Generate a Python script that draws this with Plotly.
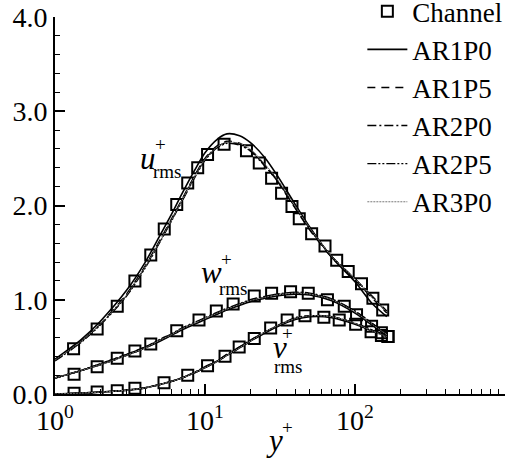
import plotly.graph_objects as go

# ---------------- data ----------------
# Channel DNS reference (open squares)
u_ch_y = [1.33, 1.91, 2.6, 3.41, 4.35, 5.35, 6.48, 7.67, 8.94, 10.4, 13.4, 18.9, 23.0, 27.8, 32.4, 38.0, 42.5, 51.4, 63.1, 75.5, 90.1, 110.5, 131.6, 153]
u_ch_v = [0.48, 0.69, 0.93, 1.20, 1.475, 1.75, 2.01, 2.24, 2.40, 2.54, 2.65, 2.58, 2.45, 2.29, 2.13, 1.99, 1.86, 1.70, 1.57, 1.42, 1.30, 1.17, 1.015, 0.89]
w_ch_y = [1.34, 1.91, 2.6, 3.41, 4.35, 6.48, 9.12, 11.9, 15.4, 21.3, 27.8, 37.2, 48.8, 65.5, 84.8, 102.4, 129, 150, 166]
w_ch_v = [0.21, 0.29, 0.38, 0.456, 0.53, 0.67, 0.785, 0.88, 0.955, 1.04, 1.07, 1.085, 1.07, 1.0, 0.93, 0.84, 0.72, 0.65, 0.61]
v_ch_y = [1.34, 1.91, 2.6, 3.41, 5.33, 7.67, 10.4, 13.6, 16.9, 21.3, 27.4, 35.3, 46.4, 62.0, 78.5, 101, 128, 150, 166]
v_ch_v = [0.007, 0.02, 0.035, 0.06, 0.12, 0.2, 0.3, 0.4, 0.5, 0.59, 0.70, 0.785, 0.83, 0.815, 0.785, 0.74, 0.66, 0.62, 0.61]

# LES cases (lines), sampled at these y+ values
yl = [1, 1.5, 2, 3, 4, 5, 6, 7, 8.5, 10, 12, 14, 17, 20, 25, 30, 40, 50, 70, 100, 130, 163]

u_AR1P0 = [0.37, 0.58, 0.77, 1.10, 1.40, 1.68, 1.91, 2.12, 2.37, 2.56, 2.70, 2.76, 2.74, 2.67, 2.51, 2.33, 2.01, 1.77, 1.45, 1.19, 0.96, 0.82]
u_AR1P5 = [0.36, 0.56, 0.74, 1.06, 1.36, 1.63, 1.86, 2.06, 2.31, 2.50, 2.63, 2.68, 2.66, 2.59, 2.43, 2.27, 1.97, 1.74, 1.45, 1.21, 1.02, 0.86]
u_AR2P0 = [0.36, 0.56, 0.74, 1.05, 1.35, 1.62, 1.85, 2.05, 2.30, 2.49, 2.62, 2.67, 2.65, 2.59, 2.43, 2.28, 1.98, 1.75, 1.46, 1.22, 1.03, 0.87]
u_AR2P5 = [0.35, 0.55, 0.73, 1.04, 1.34, 1.61, 1.84, 2.04, 2.29, 2.48, 2.61, 2.66, 2.64, 2.58, 2.42, 2.27, 1.98, 1.75, 1.46, 1.22, 1.04, 0.88]
u_AR3P0 = [0.36, 0.56, 0.74, 1.05, 1.35, 1.62, 1.85, 2.05, 2.30, 2.49, 2.62, 2.67, 2.66, 2.60, 2.44, 2.29, 1.99, 1.76, 1.46, 1.22, 1.03, 0.87]

w_AR1P0 = [0.17, 0.25, 0.31, 0.41, 0.49, 0.56, 0.625, 0.68, 0.74, 0.79, 0.845, 0.89, 0.94, 0.98, 1.015, 1.04, 1.06, 1.05, 0.99, 0.86, 0.73, 0.62]
w_AR1P5 = [0.17, 0.25, 0.31, 0.41, 0.49, 0.57, 0.63, 0.69, 0.75, 0.80, 0.855, 0.90, 0.95, 0.99, 1.025, 1.05, 1.07, 1.06, 1.00, 0.87, 0.74, 0.63]
w_AR2P0 = [0.17, 0.25, 0.32, 0.42, 0.50, 0.57, 0.63, 0.69, 0.75, 0.80, 0.855, 0.90, 0.95, 0.99, 1.025, 1.05, 1.07, 1.06, 1.00, 0.88, 0.75, 0.63]
w_AR2P5 = [0.17, 0.25, 0.32, 0.42, 0.50, 0.58, 0.64, 0.70, 0.76, 0.81, 0.865, 0.91, 0.96, 1.00, 1.035, 1.06, 1.08, 1.07, 1.01, 0.88, 0.75, 0.64]
w_AR3P0 = [0.17, 0.25, 0.31, 0.41, 0.49, 0.57, 0.63, 0.69, 0.75, 0.80, 0.855, 0.90, 0.95, 0.99, 1.025, 1.05, 1.07, 1.06, 1.00, 0.87, 0.74, 0.63]

v_AR1P0 = [0.0, 0.01, 0.02, 0.04, 0.065, 0.10, 0.135, 0.17, 0.225, 0.28, 0.345, 0.41, 0.49, 0.56, 0.645, 0.71, 0.79, 0.82, 0.81, 0.74, 0.67, 0.61]
v_AR1P5 = [0.0, 0.01, 0.02, 0.04, 0.065, 0.10, 0.135, 0.17, 0.225, 0.28, 0.345, 0.41, 0.49, 0.56, 0.655, 0.72, 0.80, 0.83, 0.82, 0.75, 0.67, 0.61]
v_AR2P0 = [0.0, 0.01, 0.02, 0.04, 0.066, 0.10, 0.135, 0.17, 0.225, 0.28, 0.35, 0.42, 0.50, 0.57, 0.655, 0.72, 0.80, 0.83, 0.82, 0.75, 0.68, 0.62]
v_AR2P5 = [0.0, 0.01, 0.02, 0.04, 0.066, 0.10, 0.135, 0.17, 0.23, 0.29, 0.35, 0.42, 0.50, 0.57, 0.655, 0.72, 0.81, 0.83, 0.82, 0.75, 0.68, 0.62]
v_AR3P0 = [0.0, 0.01, 0.02, 0.04, 0.065, 0.10, 0.135, 0.17, 0.225, 0.28, 0.345, 0.41, 0.49, 0.56, 0.655, 0.72, 0.80, 0.83, 0.82, 0.75, 0.67, 0.61]

cases = ["AR1P0", "AR1P5", "AR2P0", "AR2P5", "AR3P0"]
x_tickvals = [1, 10, 100, 1000]
x_ticktext = ["10<sup>0</sup>", "10<sup>1</sup>", "10<sup>2</sup>", "10<sup>3</sup>"]
y_tickvals = [0, 1, 2, 3, 4]
y_ticktext = ["0.0", "1.0", "2.0", "3.0", "4.0"]

# ---------------- figure ----------------
FONT = "Liberation Serif"
fig = go.Figure()

styles = {
    "AR1P0": dict(color="black", width=1.6, dash="solid"),
    "AR1P5": dict(color="black", width=1.6, dash="8px,6px"),
    "AR2P0": dict(color="black", width=1.4, dash="9px,3px,2px,3px"),
    "AR2P5": dict(color="black", width=1.4, dash="9px,2px,2px,2px,2px,2px"),
    "AR3P0": dict(color="#777777", width=1.0, dash="2px,1px"),
}
series = {
    "AR1P0": (u_AR1P0, w_AR1P0, v_AR1P0),
    "AR1P5": (u_AR1P5, w_AR1P5, v_AR1P5),
    "AR2P0": (u_AR2P0, w_AR2P0, v_AR2P0),
    "AR2P5": (u_AR2P5, w_AR2P5, v_AR2P5),
    "AR3P0": (u_AR3P0, w_AR3P0, v_AR3P0),
}

ch_x = u_ch_y + [None] + w_ch_y + [None] + v_ch_y
ch_y = u_ch_v + [None] + w_ch_v + [None] + v_ch_v
fig.add_trace(go.Scatter(
    x=ch_x, y=ch_y, mode="markers", name="Channel",
    marker=dict(symbol="square-open", size=11, color="black", line=dict(width=2, color="black")),
))

for c in cases:
    uu, ww, vv = series[c]
    xs = yl + [None] + yl + [None] + yl
    ys = uu + [None] + ww + [None] + vv
    fig.add_trace(go.Scatter(
        x=xs, y=ys, mode="lines", name=c,
        line=dict(shape="spline", smoothing=0.8, **styles[c]),
        connectgaps=False,
    ))

def ann(x, y, text, size, italic=False, family=FONT):
    t = f"<i>{text}</i>" if italic else text
    return dict(x=x, y=y, xref="paper", yref="paper", text=t, showarrow=False,
                xanchor="center", yanchor="middle",
                font=dict(family=family, size=size, color="black"))

annotations = [
    ann(0.207, 0.624, "u", 31, True), ann(0.234, 0.662, "+", 19), ann(0.251, 0.589, "rms", 19),
    ann(0.347, 0.321, "w", 31, True), ann(0.381, 0.357, "+", 19), ann(0.396, 0.281, "rms", 19),
    ann(0.500, 0.123, "v", 31, True), ann(0.516, 0.160, "+", 19), ann(0.518, 0.074, "rms", 19),
    ann(0.487, -0.124, "y", 31, True), ann(0.516, -0.088, "+", 19),
]

fig.update_layout(
    width=522, height=470,
    margin=dict(l=55, r=17, t=17, b=76, autoexpand=False),
    paper_bgcolor="white", plot_bgcolor="white",
    font=dict(family=FONT, size=27, color="black"),
    showlegend=True,
    legend=dict(x=0.683, y=1.079, xanchor="left", yanchor="top",
                bgcolor="rgba(0,0,0,0)", borderwidth=0,
                font=dict(family="serif", size=27, color="black"),
                tracegroupgap=0, itemwidth=40, maxheight=460),
    annotations=annotations,
)
fig.update_xaxes(
    type="log", range=[0, 3],
    tickmode="array", tickvals=x_tickvals, ticktext=x_ticktext,
    ticks="inside", ticklen=10, tickwidth=2, tickcolor="black",
    showline=True, linewidth=2, linecolor="black", mirror=False,
    showgrid=False, zeroline=False,
    tickfont=dict(family="Times", size=28, color="black"),
    minor=dict(tickmode="array", tickvals=[a * b for b in (1, 10, 100) for a in range(2, 10)],
               ticks="inside", ticklen=5, tickwidth=1, tickcolor="black", showgrid=False),
)
fig.update_yaxes(
    range=[0, 4],
    tickmode="array", tickvals=y_tickvals, ticktext=y_ticktext,
    ticks="inside", ticklen=10, tickwidth=2, tickcolor="black",
    showline=True, linewidth=2, linecolor="black", mirror=False,
    showgrid=False, zeroline=False,
    tickfont=dict(family="Liberation Serif", size=28, color="black"),
    minor=dict(dtick=0.2, tick0=0, ticks="inside", ticklen=5, tickwidth=1, tickcolor="black", showgrid=False),
)

fig.write_html("out.html")
